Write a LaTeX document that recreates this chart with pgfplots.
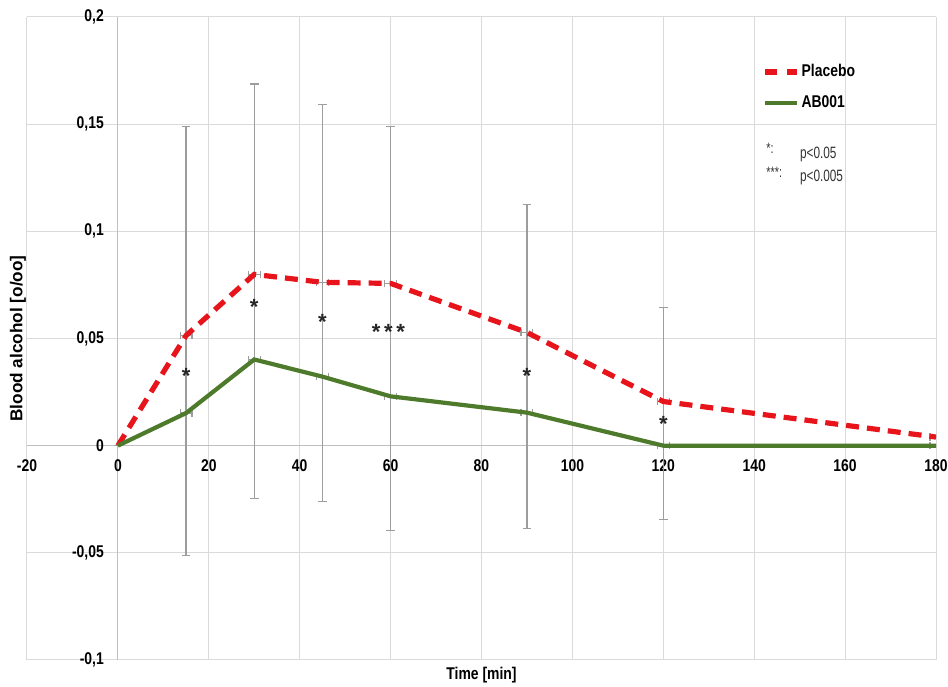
\documentclass[border=0pt]{standalone}
\usepackage{fontspec}
\setmainfont{Liberation Sans}
\newfontfamily\nf[FakeStretch=0.82]{Liberation Sans}
\newfontfamily\pf[FakeStretch=0.72]{Liberation Sans}
\usepackage{pgfplots}
\pgfplotsset{compat=1.18}
\usepackage{pgfplotstable}

\definecolor{pred}{HTML}{E8141C}
\definecolor{pgreen}{HTML}{4E7A2C}
\definecolor{gridc}{HTML}{DADADA}
\definecolor{errc}{HTML}{8C8C8C}

\pgfplotstableread{
x y hi lo
0 0 0 0
15 0.0514 0.149 -0.0514
30 0.0799 0.1687 -0.0248
45 0.0762 0.159 -0.026
60 0.0757 0.149 -0.0397
90 0.0528 0.1126 -0.0388
120 0.0206 0.0645 -0.0346
180 0.0040 0.0040 0.0040
}\placebo

\pgfplotstableread{
x y
0 0
15 0.0152
30 0.0402
45 0.0322
60 0.0230
90 0.0154
120 0
180 0
}\abtab

\pgfplotstableread{
x y
15 0.0514
30 0.0799
45 0.0762
60 0.0757
90 0.0528
120 0.0206
180 0.0040
15 0.0152
30 0.0402
45 0.0322
60 0.0230
90 0.0154
120 0
180 0
}\marktab

\begin{document}
\begin{tikzpicture}
\begin{axis}[
  scale only axis, width=454.5pt, height=321.5pt,
  xmin=-20, xmax=180, ymin=-0.1, ymax=0.2,
  enlargelimits=false,
  axis lines=middle,
  axis line style={gridc!70!gray, -, line width=0.6pt},
  hide obscured x ticks=false, hide obscured y ticks=false,
  xtick={-20,0,20,40,60,80,100,120,140,160,180},
  ytick={-0.1,-0.05,0,0.05,0.1,0.15,0.2},
  grid=major, major grid style={gridc, line width=0.5pt},
  major tick length=0pt,
  tick label style={font=\nf\bfseries\fontsize{8.5}{10}\selectfont},
  /pgf/number format/use comma,
  /pgf/number format/assume math mode=true,
  yticklabel style={anchor=east, xshift=-3.5pt, /pgf/number format/fixed, /pgf/number format/precision=2},
  xticklabel style={anchor=north, yshift=-3.5pt},
  xlabel={Time [min]},
  ylabel={Blood alcohol [o/oo]},
  xlabel style={at={(rel axis cs:0.5,0)}, anchor=center, yshift=-7.5pt, font=\nf\bfseries\fontsize{8.5}{10}\selectfont},
  ylabel style={at={(rel axis cs:0,0.5)}, rotate=90, anchor=center, yshift=4.5pt, font=\bfseries\fontsize{8.6}{10}\selectfont},
  legend style={at={(0.8086,0.93)}, anchor=north west, draw=none, fill=none,
    font=\nf\bfseries\fontsize{8.5}{10}\selectfont, row sep=6pt, inner sep=0pt,
    nodes={inner sep=1pt}},
  legend cell align=left,
  legend image code/.code={\draw[#1] (0pt,0pt) -- (16pt,0pt);},
]
\coordinate (BL) at (rel axis cs:0,0);
\coordinate (TR) at (rel axis cs:1,1);

% vertical error bars (behind the lines)
\addplot[draw=none, mark=none, forget plot,
  error bars/.cd, y dir=both, y explicit,
  error bar style={errc!85, line width=0.6pt},
  error mark options={errc!85, rotate=90, mark size=2.2pt, line width=0.6pt}]
  table[x=x, y=y, y error plus expr=\thisrow{hi}-\thisrow{y}, y error minus expr=\thisrow{y}-\thisrow{lo}] {\placebo};

% small horizontal markers at the data points
\addplot[draw=none, mark=none, forget plot,
  error bars/.cd, x dir=both, x fixed=1.3,
  error bar style={errc!85, line width=0.6pt},
  error mark options={errc!85, rotate=90, mark size=1.8pt, line width=0.6pt}]
  table[x=x, y=y] {\marktab};

\addplot[pred, line width=2.6pt, dash pattern=on 6.5pt off 4pt, mark=none,
  legend image post style={dash pattern=on 6pt off 5pt}] table[x=x, y=y] {\placebo};
\addlegendentry{Placebo}
\addplot[pgreen, line width=2.1pt, mark=none] table[x=x, y=y] {\abtab};
\addlegendentry{AB001}

\begin{scope}[every node/.style={font=\bfseries\fontsize{11}{11}\selectfont, text=black!85, yshift=-2.5pt}]
\node at (axis cs:15,0.035) {*};
\node at (axis cs:30,0.067) {*};
\node at (axis cs:45,0.060) {*};
\node at (axis cs:59.5,0.0556) {*\,*\,*};
\node at (axis cs:90,0.035) {*};
\node at (axis cs:120,0.0125) {*};
\end{scope}

\node[anchor=west, inner sep=0pt, font=\pf\fontsize{7.5}{8}\selectfont, text=black!80] at (axis cs:142.6,0.1385) {*:};
\node[anchor=west, inner sep=0pt, font=\pf\fontsize{7.5}{8}\selectfont, text=black!80] at (axis cs:142.6,0.1275) {***:};
\node[anchor=west, inner sep=0pt, font=\pf\fontsize{8.2}{9}\selectfont, text=black!80] at (axis cs:150.0,0.136) {p<0.05};
\node[anchor=west, inner sep=0pt, font=\pf\fontsize{8.2}{9}\selectfont, text=black!80] at (axis cs:150.0,0.125) {p<0.005};
\end{axis}
\pgfresetboundingbox
\path ([shift={(-13.5pt,-13.5pt)}]BL) rectangle ([shift={(6pt,8.5pt)}]TR);
\end{tikzpicture}
\end{document}
